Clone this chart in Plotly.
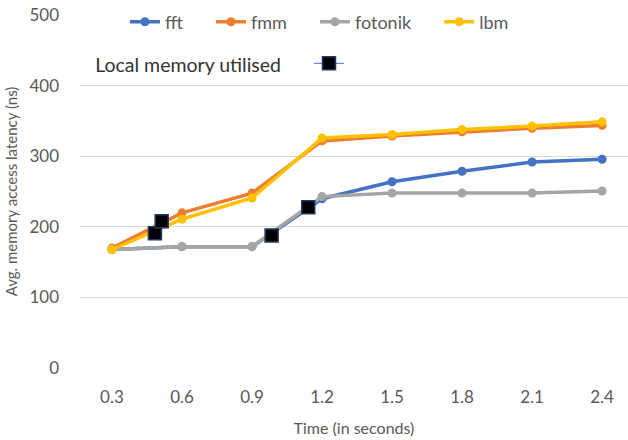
import plotly.graph_objects as go

times = [0.3, 0.6, 0.9, 1.2, 1.5, 1.8, 2.1, 2.4]
time_labels = ["0.3", "0.6", "0.9", "1.2", "1.5", "1.8", "2.1", "2.4"]

fft = [168, 172, 172, 240, 264, 279, 292, 296]
fmm = [170, 220, 248, 322, 329, 335, 340, 344]
fotonik = [168, 172, 172, 243, 248, 248, 248, 251]
lbm = [168, 211, 241, 326, 331, 338, 343, 349]

# points where local memory was utilised
local_x = [0.484, 0.513, 0.984, 1.141]
local_y = [191, 208, 188, 228]

font = "Lato"
grey = "#595959"
nb = "\u00a0"

fig = go.Figure()

# name, values, colour, spaces after name in legend
series = [
    ("fft", fft, "#4472C4", 5),
    ("fmm", fmm, "#ED7D31", 5),
    ("fotonik", fotonik, "#A5A5A5", 5),
    ("lbm", lbm, "#FFC000", 0),
]
for name, vals, col, npad in series:
    fig.add_trace(go.Scatter(x=times, y=vals, name=name + nb * npad, mode="lines+markers",
                             line=dict(color=col, width=3.5),
                             marker=dict(color=col, size=9)))

fig.add_trace(go.Scatter(x=local_x, y=local_y, mode="markers", showlegend=False,
                         marker=dict(symbol="square", size=13, color="black",
                                     line=dict(color="#1F3864", width=1.5))))
# legend entry only (line + square)
fig.add_trace(go.Scatter(x=[None], y=[None], name="", mode="lines+markers", legend="legend2",
                         line=dict(color="#4472C4", width=1),
                         marker=dict(symbol="square", size=13, color="black",
                                     line=dict(color="#1F3864", width=1.5))))

fig.update_layout(
    width=628, height=440,
    margin=dict(l=80, r=0, t=15, b=72, autoexpand=False),
    plot_bgcolor="white", paper_bgcolor="white",
    font=dict(family=font, size=16, color=grey),
    legend=dict(orientation="h", x=0.082, y=0.98, xanchor="left", yanchor="middle",
                bgcolor="rgba(0,0,0,0)", font=dict(size=18, color=grey),
                itemwidth=30, tracegroupgap=0),
    legend2=dict(orientation="h", x=0.024, y=0.86, xanchor="left", yanchor="middle",
                 bgcolor="rgba(0,0,0,0)",
                 title=dict(text="Local memory utilised" + nb * 4, side="left",
                            font=dict(size=19.5, color="#333333"))),
    showlegend=True,
)

fig.update_xaxes(range=[0.163, 2.511], tickvals=times, ticktext=time_labels,
                 showgrid=False, zeroline=False, showline=False, ticks="",
                 automargin=False, ticklabelstandoff=17,
                 tickfont=dict(size=17, color=grey),
                 title=dict(text="Time (in seconds)", font=dict(size=16, color=grey), standoff=16))
fig.update_yaxes(range=[0, 500.5], tickvals=[0, 100, 200, 300, 400, 500],
                 showgrid=True, gridcolor="#D9D9D9", gridwidth=1,
                 zeroline=False, ticks="", ticklabelstandoff=20,
                 automargin=False, ticklabeloverflow="allow",
                 tickfont=dict(size=17, color=grey),
                 title=dict(text="Avg. memory access latency (ns)",
                            font=dict(size=15, color=grey), standoff=8))

# drop the default 8px body margin so the figure fills the window
fig.write_html("out.html", config={"displayModeBar": False},
               post_script="document.body.style.margin='0';")
